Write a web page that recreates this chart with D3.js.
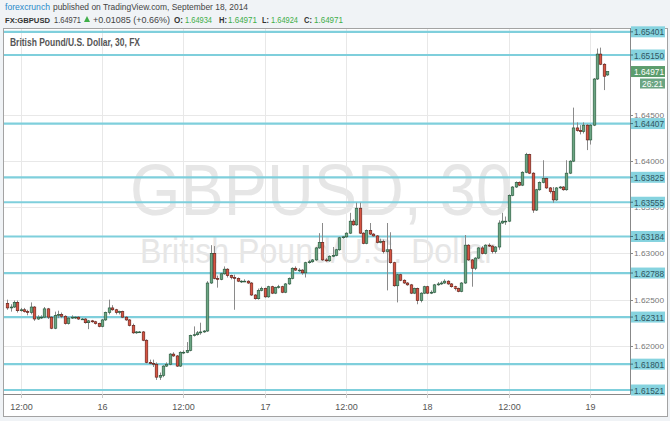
<!DOCTYPE html>
<html><head><meta charset="utf-8">
<script src="https://cdn.jsdelivr.net/npm/d3@7"></script>
<style>body{margin:0;background:#f0f3f6;}svg{display:block}</style>
</head><body>
<svg id="chart" width="670" height="421"></svg>
<script>
// ---------------- DATA ----------------
const firstCandle = "2014-09-15T10:00:00Z"; // 30-minute bars
const opens = [
1.6246,1.6241,1.6242,1.6247,1.6238,1.6239,1.6237,1.6236,1.6242,1.6229,
1.6231,1.6231,1.6240,1.6231,1.6219,1.6233,1.6234,1.6232,1.6224,1.6230,
1.6231,1.6231,1.6229,1.6229,1.6225,1.6227,1.6226,1.6224,1.6221,1.6228,
1.6236,1.6241,1.6239,1.6236,1.6237,1.6231,1.6228,1.6222,1.6214,1.6215,
1.6215,1.6206,1.6182,1.6181,1.6180,1.6166,1.6168,1.6178,1.6180,1.6191,
1.6189,1.6178,1.6193,1.6193,1.6195,1.6211,1.6212,1.6214,1.6215,1.6216,
1.6268,1.6300,1.6273,1.6272,1.6278,1.6283,1.6276,1.6274,1.6273,1.6270,
1.6270,1.6270,1.6268,1.6255,1.6251,1.6260,1.6262,1.6253,1.6264,1.6257,
1.6263,1.6264,1.6258,1.6267,1.6273,1.6284,1.6282,1.6282,1.6279,1.6290,
1.6291,1.6293,1.6306,1.6312,1.6293,1.6292,1.6297,1.6298,1.6304,1.6317,
1.6318,1.6322,1.6335,1.6331,1.6349,1.6322,1.6311,1.6325,1.6321,1.6319,
1.6312,1.6313,1.6302,1.6304,1.6290,1.6265,1.6277,1.6271,1.6268,1.6266,
1.6257,1.6262,1.6249,1.6257,1.6264,1.6257,1.6258,1.6266,1.6267,1.6268,
1.6270,1.6267,1.6264,1.6262,1.6259,1.6268,1.6309,1.6293,1.6284,1.6295,
1.6306,1.6300,1.6309,1.6308,1.6302,1.6307,1.6333,1.6335,1.6335,1.6363,
1.6372,1.6377,1.6374,1.6388,1.6407,1.6387,1.6347,1.6369,1.6377,1.6381,
1.6371,1.6367,1.6358,1.6371,1.6372,1.6369,1.6387,1.6400,1.6436,1.6433,
1.6432,1.6439,1.6423,1.6439,1.6489,1.6516,1.6505,1.64934];
const highs = [
1.6250,1.6245,1.6249,1.6249,1.6241,1.6241,1.6239,1.6247,1.6243,1.6233,
1.6233,1.6242,1.6241,1.6232,1.6237,1.6238,1.6236,1.6233,1.6231,1.6233,
1.6232,1.6232,1.6230,1.6230,1.6228,1.6228,1.6227,1.6225,1.6229,1.6237,
1.6250,1.6244,1.6240,1.6238,1.6238,1.6232,1.6229,1.6224,1.6216,1.6216,
1.6216,1.6207,1.6185,1.6185,1.6182,1.6171,1.6179,1.6182,1.6192,1.6193,
1.6190,1.6194,1.6195,1.6204,1.6212,1.6221,1.6216,1.6225,1.6217,1.6270,
1.6309,1.6308,1.6276,1.6279,1.6286,1.6284,1.6277,1.6277,1.6274,1.6271,
1.6272,1.6271,1.6269,1.6256,1.6262,1.6264,1.6263,1.6265,1.6265,1.6264,
1.6266,1.6265,1.6268,1.6274,1.6285,1.6286,1.6284,1.6283,1.6291,1.6293,
1.6294,1.6307,1.6322,1.6333,1.6295,1.6298,1.6307,1.6305,1.6318,1.6319,
1.6323,1.6344,1.6337,1.6355,1.6355,1.6323,1.6326,1.6333,1.6322,1.6320,
1.6316,1.6315,1.6333,1.6323,1.6291,1.6278,1.6278,1.6272,1.6269,1.6267,
1.6263,1.6263,1.6258,1.6265,1.6265,1.6260,1.6267,1.6269,1.6270,1.6272,
1.6271,1.6268,1.6265,1.6263,1.6269,1.6320,1.6310,1.6294,1.6296,1.6307,
1.6308,1.6310,1.6311,1.6309,1.6308,1.6336,1.6344,1.6340,1.6364,1.6373,
1.6378,1.6378,1.6389,1.6409,1.6408,1.6388,1.6370,1.6378,1.6401,1.6382,
1.6372,1.6372,1.6372,1.6373,1.6373,1.6401,1.6401,1.6458,1.6442,1.6439,
1.6442,1.6440,1.6440,1.6490,1.6522,1.6523,1.6506,1.64971];
const lows = [
1.6239,1.6237,1.6241,1.6236,1.6237,1.6236,1.6233,1.6234,1.6227,1.6228,
1.6229,1.6230,1.6229,1.6218,1.6218,1.6230,1.6230,1.6223,1.6223,1.6229,
1.6229,1.6228,1.6228,1.6224,1.6218,1.6225,1.6223,1.6220,1.6220,1.6227,
1.6234,1.6238,1.6234,1.6234,1.6230,1.6227,1.6221,1.6213,1.6213,1.6214,
1.6205,1.6181,1.6180,1.6177,1.6163,1.6163,1.6166,1.6177,1.6179,1.6188,
1.6177,1.6177,1.6191,1.6192,1.6194,1.6210,1.6211,1.6212,1.6214,1.6215,
1.6267,1.6272,1.6263,1.6271,1.6277,1.6274,1.6272,1.6239,1.6269,1.6268,
1.6269,1.6267,1.6254,1.6250,1.6250,1.6259,1.6252,1.6252,1.6256,1.6256,
1.6262,1.6257,1.6257,1.6266,1.6272,1.6281,1.6280,1.6277,1.6274,1.6289,
1.6290,1.6292,1.6305,1.6292,1.6291,1.6291,1.6296,1.6297,1.6303,1.6316,
1.6317,1.6321,1.6330,1.6330,1.6321,1.6310,1.6310,1.6320,1.6318,1.6311,
1.6311,1.6300,1.6260,1.6289,1.6264,1.6247,1.6270,1.6267,1.6265,1.6256,
1.6256,1.6245,1.6247,1.6256,1.6256,1.6256,1.6257,1.6265,1.6266,1.6267,
1.6266,1.6263,1.6260,1.6258,1.6258,1.6267,1.6292,1.6264,1.6282,1.6294,
1.6299,1.6299,1.6307,1.6300,1.6300,1.6304,1.6332,1.6331,1.6334,1.6362,
1.6371,1.6373,1.6373,1.6387,1.6386,1.6344,1.6346,1.6368,1.6376,1.6370,
1.6365,1.6355,1.6357,1.6370,1.6368,1.6368,1.6386,1.6399,1.6432,1.6429,
1.6430,1.6412,1.6418,1.6438,1.6488,1.6504,1.6477,1.64924];
const closes = [
1.6241,1.6242,1.6247,1.6238,1.6239,1.6237,1.6236,1.6242,1.6229,1.6231,
1.6231,1.6240,1.6231,1.6219,1.6233,1.6234,1.6232,1.6224,1.6230,1.6231,
1.6231,1.6229,1.6229,1.6225,1.6227,1.6226,1.6224,1.6221,1.6228,1.6236,
1.6241,1.6239,1.6236,1.6237,1.6231,1.6228,1.6222,1.6214,1.6215,1.6215,
1.6206,1.6182,1.6181,1.6180,1.6166,1.6168,1.6178,1.6180,1.6191,1.6189,
1.6178,1.6193,1.6193,1.6195,1.6211,1.6212,1.6214,1.6215,1.6216,1.6268,
1.6300,1.6273,1.6272,1.6278,1.6283,1.6276,1.6274,1.6273,1.6270,1.6270,
1.6270,1.6268,1.6255,1.6251,1.6260,1.6262,1.6253,1.6264,1.6257,1.6263,
1.6264,1.6258,1.6267,1.6273,1.6284,1.6282,1.6282,1.6279,1.6290,1.6291,
1.6293,1.6306,1.6312,1.6293,1.6292,1.6297,1.6298,1.6304,1.6317,1.6318,
1.6322,1.6335,1.6331,1.6349,1.6322,1.6311,1.6325,1.6321,1.6319,1.6312,
1.6313,1.6302,1.6304,1.6290,1.6265,1.6277,1.6271,1.6268,1.6266,1.6257,
1.6262,1.6249,1.6257,1.6264,1.6257,1.6258,1.6266,1.6267,1.6268,1.6270,
1.6267,1.6264,1.6262,1.6259,1.6268,1.6309,1.6293,1.6284,1.6295,1.6306,
1.6300,1.6309,1.6308,1.6302,1.6307,1.6333,1.6335,1.6335,1.6363,1.6372,
1.6377,1.6374,1.6388,1.6407,1.6387,1.6347,1.6369,1.6377,1.6381,1.6371,
1.6367,1.6358,1.6371,1.6372,1.6369,1.6387,1.6400,1.6436,1.6433,1.6432,
1.6439,1.6423,1.6439,1.6489,1.6516,1.6505,1.6492,1.64971];

const levelValues = [1.65401,1.65150,1.64407,1.63825,1.63555,1.63184,1.62788,1.62311,1.61801,1.61521];
const levelLabels = ["1.65401","1.65150","1.64407","1.63825","1.63555","1.63184","1.62788","1.62311","1.61801","1.61521"];
const priceTicks = [1.620,1.625,1.630,1.635,1.640,1.645];
const priceTickLabels = ["1.62000","1.62500","1.63000","1.63500","1.64000","1.64500"];
const timeTicks = ["2014-09-15T12:00:00Z","2014-09-16T00:00:00Z","2014-09-16T12:00:00Z","2014-09-17T00:00:00Z","2014-09-17T12:00:00Z","2014-09-18T00:00:00Z","2014-09-18T12:00:00Z","2014-09-19T00:00:00Z"];
const timeTickLabels = ["12:00","16","12:00","17","12:00","18","12:00","19"];
const lastPrice = 1.64971, lastLabel = "1.64971", countdown = "26:21";

// ---------------- LAYOUT ----------------
const svg = d3.select("#chart");
const FONT = "'Liberation Sans',Arial,sans-serif";
const plot = {left:4, right:630, top:29, bottom:394};
const parse = d3.utcParse("%Y-%m-%dT%H:%M:%SZ");
const t0 = parse(firstCandle);
const candles = closes.map((c,i)=>({t:d3.utcMinute.offset(t0,30*i),o:opens[i],h:highs[i],l:lows[i],c:c}));

const x = d3.scaleUtc()
  .domain([parse("2014-09-15T12:00:00Z"), parse("2014-09-19T00:00:00Z")])
  .range([20.7, 590.2]);
const y = d3.scaleLinear().domain([1.61521,1.65150]).range([390,55]);

// background
svg.append("rect").attr("width",670).attr("height",421).attr("fill","#f0f3f6");
svg.append("rect").attr("x",3.5).attr("y",28.5).attr("width",664).attr("height",388)
  .attr("fill","#fff").attr("stroke","#a3a3a3");

// header
const hdr = svg.append("g").style("font-family",FONT);
function ht(txt,x0,yb,w,fill,bold,fs){
  hdr.append("text").attr("x",x0).attr("y",yb).attr("textLength",w).attr("lengthAdjust","spacingAndGlyphs")
    .style("font-size",fs+"px").attr("fill",fill).attr("font-weight",bold?"bold":"normal").text(txt);
}
ht("forexcrunch",5,10,45,"#2a8ac9",false,9);
ht("published on TradingView.com, September 18, 2014",53,10,195,"#444",false,9);
ht("FX:GBPUSD",5,22.5,45,"#333",true,8);
ht("1.64971",54,22.5,27,"#444",false,8.5);
hdr.append("path").attr("d","M84,22 L90,22 L87,16 Z").attr("fill","#3fae49");
ht("+0.01085 (+0.66%)",93,22.5,77,"#444",false,9);
ht("O:",174,22.5,9,"#333",true,9); ht("1.64934",185,22.5,27,"#3fae49",false,8.5);
ht("H:",219,22.5,8,"#333",true,9); ht("1.64971",228,22.5,29,"#3fae49",false,8.5);
ht("L:",262,22.5,7,"#333",true,9); ht("1.64924",271,22.5,27,"#3fae49",false,8.5);
ht("C:",304,22.5,8,"#333",true,9); ht("1.64971",314,22.5,29,"#3fae49",false,8.5);

// clip
svg.append("clipPath").attr("id","clip").append("rect")
  .attr("x",plot.left).attr("y",plot.top).attr("width",plot.right-plot.left).attr("height",plot.bottom-plot.top);
const g = svg.append("g").attr("clip-path","url(#clip)");

// watermark
g.append("text").attr("x",130).attr("y",215).attr("textLength",382).attr("lengthAdjust","spacingAndGlyphs")
  .style("font-family",FONT).style("font-size","72px").attr("fill","#e6e6e6").text("GBPUSD, 30");
g.append("text").attr("x",140).attr("y",263).attr("textLength",355).attr("lengthAdjust","spacingAndGlyphs")
  .style("font-family",FONT).style("font-size","35px").attr("fill","#e6e6e6").text("British Pound/U.S. Dollar");

// grid
g.selectAll(".hg").data(priceTicks).join("line").attr("x1",plot.left).attr("x2",plot.right)
  .attr("y1",d=>Math.round(y(d))+0.5).attr("y2",d=>Math.round(y(d))+0.5).attr("stroke","#e8e8e8");
g.selectAll(".vg").data(timeTicks).join("line").attr("y1",plot.top).attr("y2",plot.bottom)
  .attr("x1",d=>Math.round(x(parse(d)))+0.5).attr("x2",d=>Math.round(x(parse(d)))+0.5).attr("stroke","#e8e8e8");

// title
svg.append("text").attr("x",10).attr("y",45.5).attr("textLength",130).attr("lengthAdjust","spacingAndGlyphs")
  .style("font-family",FONT).style("font-size","10.5px").attr("font-weight","bold")
  .attr("fill","#555").text("British Pound/U.S. Dollar, 30, FX");

// level lines
g.selectAll(".lv").data(levelValues).join("line").attr("x1",plot.left).attr("x2",plot.right)
  .attr("y1",d=>y(d)).attr("y2",d=>y(d)).attr("stroke","#7fcfdc").attr("stroke-width",2.2);

// candles
const cw = 2.6;
const cg = g.append("g");
cg.selectAll(".wk").data(candles).join("line")
  .attr("x1",d=>Math.round(x(d.t))+0.5).attr("x2",d=>Math.round(x(d.t))+0.5)
  .attr("y1",d=>y(d.h)).attr("y2",d=>y(d.l)).attr("stroke","#8a8a8a").attr("stroke-width",1);
cg.selectAll(".bd").data(candles).join("rect")
  .attr("x",d=>Math.round(x(d.t))+0.5-cw/2).attr("width",cw)
  .attr("y",d=>y(Math.max(d.o,d.c))).attr("height",d=>Math.max(0.8,Math.abs(y(d.o)-y(d.c))))
  .attr("fill",d=>d.c>=d.o?"#6ba583":"#d75442")
  .attr("stroke",d=>d.c>=d.o?"#225437":"#5b1a13").attr("stroke-width",0.6);

// plot border lines
svg.append("line").attr("x1",plot.right+0.5).attr("x2",plot.right+0.5).attr("y1",28).attr("y2",plot.bottom+0.5).attr("stroke","#888");
svg.append("line").attr("x1",3).attr("x2",plot.right+0.5).attr("y1",plot.bottom+0.5).attr("y2",plot.bottom+0.5).attr("stroke","#888");

// price axis
const ax = svg.append("g").style("font-family",FONT).style("font-size","8.5px");
priceTicks.forEach((p,i)=>{
  const yy=Math.round(y(p))+0.5;
  ax.append("line").attr("x1",plot.right).attr("x2",plot.right+3).attr("y1",yy).attr("y2",yy).attr("stroke","#888");
  ax.append("text").attr("x",plot.right+4).attr("y",yy+2.5).attr("textLength",30).attr("lengthAdjust","spacingAndGlyphs")
    .style("font-size","8px").attr("fill","#777").text(priceTickLabels[i]);
});
levelValues.forEach((p,i)=>{
  const yy=y(p);
  ax.append("rect").attr("x",plot.right+1).attr("y",yy-5.5).attr("width",34).attr("height",11).attr("fill","#86d3df");
  ax.append("line").attr("x1",plot.right).attr("x2",plot.right+3).attr("y1",yy).attr("y2",yy).attr("stroke","#3a6f7a");
  ax.append("text").attr("x",plot.right+4).attr("y",yy+3.5).attr("textLength",30).attr("lengthAdjust","spacingAndGlyphs").attr("fill","#2f5560").text(levelLabels[i]);
});
{
  const yy=y(lastPrice);
  ax.append("rect").attr("x",plot.right+1).attr("y",yy-5.5).attr("width",34).attr("height",11).attr("fill","#5c9d6d");
  ax.append("text").attr("x",plot.right+4).attr("y",yy+3.2).attr("textLength",30).attr("lengthAdjust","spacingAndGlyphs").attr("fill","#fff").text(lastLabel);
  ax.append("rect").attr("x",plot.right+10).attr("y",yy+7).attr("width",25).attr("height",10).attr("fill","#6ba583");
  ax.append("text").attr("x",plot.right+12).attr("y",yy+15).attr("textLength",21).attr("lengthAdjust","spacingAndGlyphs").attr("fill","#fff").text(countdown);
}

// time axis
timeTicks.forEach((t,i)=>{
  const xx=Math.round(x(parse(t)))+0.5;
  ax.append("line").attr("x1",xx).attr("x2",xx).attr("y1",plot.bottom).attr("y2",plot.bottom+4).attr("stroke","#ccc");
  ax.append("text").attr("x",xx).attr("y",410).attr("text-anchor","middle").attr("fill","#555").style("font-size","9px").text(timeTickLabels[i]);
});
</script>
</body></html>
